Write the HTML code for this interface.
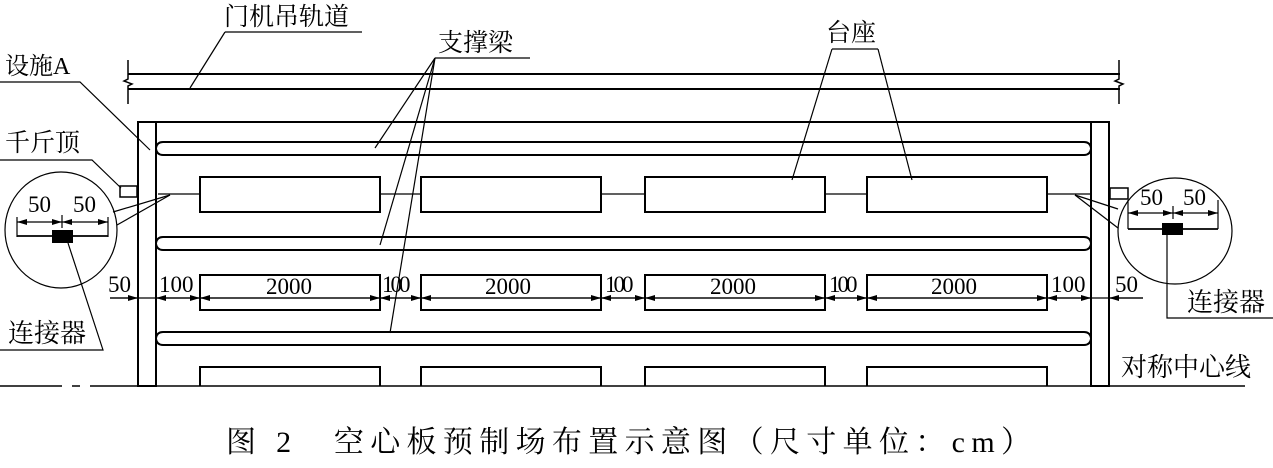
<!DOCTYPE html>
<html><head><meta charset="utf-8"><style>
html,body{margin:0;padding:0;background:#fff;}
svg{display:block}
text{font-family:"Liberation Serif","Noto Serif CJK SC",serif;fill:#000}
</style></head><body>
<svg width="1273" height="468" viewBox="0 0 1273 468" xmlns="http://www.w3.org/2000/svg">
<defs>
<marker id="a" viewBox="0 0 10 6" refX="10" refY="3" markerWidth="10" markerHeight="6" orient="auto-start-reverse" markerUnits="userSpaceOnUse"><path d="M0,0L10,3L0,6z" fill="#000"/></marker>
</defs>
<g stroke="#000" stroke-width="2" fill="none">
<line x1="128" y1="74" x2="1120" y2="74"/>
<line x1="128" y1="89" x2="1120" y2="89"/>
<polyline points="128,60 128,79 124,81 132,84 128,86 128,104" stroke-width="1.5"/>
<polyline points="1119,60 1119,79 1115,81 1123,84 1119,86 1119,104" stroke-width="1.5"/>
<rect x="138" y="122" width="18" height="264"/>
<rect x="1091" y="122" width="18" height="264"/>
<line x1="156" y1="122" x2="1091" y2="122"/>
<path d="M156,148 Q157,142 163,142 H1084 Q1090,142 1091,148"/>
<path d="M156,149 Q157,155 163,155 H1084 Q1090,155 1091,149"/>
<path d="M156,243 Q157,237 163,237 H1084 Q1090,237 1091,243"/>
<path d="M156,244 Q157,250 163,250 H1084 Q1090,250 1091,244"/>
<path d="M156,338 Q157,332 163,332 H1084 Q1090,332 1091,338"/>
<path d="M156,339 Q157,345 163,345 H1084 Q1090,345 1091,339"/>
<rect x="200" y="177" width="180" height="35"/>
<rect x="421" y="177" width="180" height="35"/>
<rect x="645" y="177" width="180" height="35"/>
<rect x="867" y="177" width="180" height="35"/>
<rect x="200" y="275" width="180" height="35"/>
<rect x="421" y="275" width="180" height="35"/>
<rect x="645" y="275" width="180" height="35"/>
<rect x="867" y="275" width="180" height="35"/>
<path d="M200,386 V367 H380 V386"/>
<path d="M421,386 V367 H601 V386"/>
<path d="M645,386 V367 H825 V386"/>
<path d="M867,386 V367 H1047 V386"/>
<g stroke-width="1.3">
<line x1="158" y1="194" x2="200" y2="194"/><line x1="380" y1="194" x2="421" y2="194"/>
<line x1="601" y1="194" x2="645" y2="194"/><line x1="825" y1="194" x2="867" y2="194"/>
<line x1="1047" y1="194" x2="1090" y2="194"/>
</g>
<rect x="120" y="186" width="17" height="11" stroke-width="1.5"/>
<rect x="1110" y="188" width="18" height="11" stroke-width="1.5"/>
<line x1="0" y1="386" x2="138" y2="386" stroke-dasharray="62,10,8,10" stroke-width="1.5"/>
<line x1="138" y1="386" x2="1245" y2="386" stroke-width="1.5"/>
</g>
<g stroke="#000" stroke-width="1.2" fill="none">
<polyline points="225,32 362,32"/><line x1="225" y1="32" x2="190" y2="88"/>
<polyline points="0,82 80,82 150,150"/>
<polyline points="0,160 92,160 121,188"/>
<polyline points="435,58 530,58"/>
<line x1="435" y1="58" x2="375" y2="148"/>
<line x1="435" y1="58" x2="380" y2="245"/>
<line x1="435" y1="58" x2="390" y2="333"/>
<polyline points="832,49 878,49"/>
<line x1="832" y1="49" x2="792" y2="180"/>
<line x1="878" y1="49" x2="912" y2="180"/>
<ellipse cx="61" cy="230" rx="56" ry="58"/>
<line x1="113" y1="212" x2="170" y2="195"/>
<line x1="117" y1="225" x2="170" y2="195"/>
<line x1="17" y1="222" x2="62" y2="222" marker-start="url(#a)" marker-end="url(#a)"/>
<line x1="62" y1="222" x2="108" y2="222" marker-start="url(#a)" marker-end="url(#a)"/>
<line x1="17" y1="217" x2="17" y2="237"/><line x1="108" y1="217" x2="108" y2="237"/>
<line x1="62" y1="215" x2="62" y2="228"/>
<line x1="17" y1="236" x2="108" y2="236" stroke-width="1.8"/>
<polyline points="68,243 103,350 0,350"/>
<ellipse cx="1175" cy="231" rx="57" ry="53"/>
<line x1="1075" y1="195" x2="1118" y2="209"/>
<line x1="1075" y1="195" x2="1118" y2="228"/>
<line x1="1128" y1="213" x2="1173" y2="213" marker-start="url(#a)" marker-end="url(#a)"/>
<line x1="1173" y1="213" x2="1218" y2="213" marker-start="url(#a)" marker-end="url(#a)"/>
<line x1="1128" y1="200" x2="1128" y2="229"/><line x1="1218" y1="200" x2="1218" y2="229"/>
<line x1="1173" y1="206" x2="1173" y2="219"/>
<line x1="1128" y1="229" x2="1218" y2="229" stroke-width="1.8"/>
<polyline points="1167,235 1167,318 1273,318"/>
<line x1="110" y1="298" x2="1143" y2="298"/>
<line x1="110" y1="298" x2="138" y2="298" marker-end="url(#a)"/>
<line x1="156" y1="298" x2="178" y2="298" marker-start="url(#a)"/>
<line x1="178" y1="298" x2="200" y2="298" marker-end="url(#a)"/>
<line x1="200" y1="298" x2="380" y2="298" marker-start="url(#a)" marker-end="url(#a)"/>
<line x1="380" y1="298" x2="401" y2="298" marker-start="url(#a)"/>
<line x1="401" y1="298" x2="421" y2="298" marker-end="url(#a)"/>
<line x1="421" y1="298" x2="601" y2="298" marker-start="url(#a)" marker-end="url(#a)"/>
<line x1="601" y1="298" x2="623" y2="298" marker-start="url(#a)"/>
<line x1="623" y1="298" x2="645" y2="298" marker-end="url(#a)"/>
<line x1="645" y1="298" x2="825" y2="298" marker-start="url(#a)" marker-end="url(#a)"/>
<line x1="825" y1="298" x2="846" y2="298" marker-start="url(#a)"/>
<line x1="846" y1="298" x2="867" y2="298" marker-end="url(#a)"/>
<line x1="867" y1="298" x2="1047" y2="298" marker-start="url(#a)" marker-end="url(#a)"/>
<line x1="1047" y1="298" x2="1068" y2="298" marker-start="url(#a)"/>
<line x1="1068" y1="298" x2="1091" y2="298" marker-end="url(#a)"/>
<line x1="1109" y1="298" x2="1143" y2="298" marker-start="url(#a)"/>
</g>
<rect x="52" y="230" width="21" height="13" fill="#000"/>
<rect x="1162" y="223" width="21" height="12" fill="#000"/>
<g font-size="25">
<text x="224" y="25">门机吊轨道</text>
<text x="438" y="51">支撑梁</text>
<text x="826" y="41">台座</text>
<text x="5" y="74" font-size="24">设施A</text>
<text x="5" y="151">千斤顶</text>
<text x="8" y="342" font-size="26">连接器</text>
<text x="1187" y="311" font-size="26">连接器</text>
<text x="1121" y="376" font-size="26">对称中心线</text>
</g>
<g font-size="23">
<text x="28" y="212">50</text><text x="73" y="212">50</text>
<text x="1140" y="205">50</text><text x="1183" y="205">50</text>
<text x="108" y="292">50</text>
<text x="159" y="292">100</text>
<text x="266" y="294">2000</text>
<text x="382" y="292" letter-spacing="-3">100</text>
<text x="485" y="294">2000</text>
<text x="605" y="292" letter-spacing="-3">100</text>
<text x="710" y="294">2000</text>
<text x="829" y="292" letter-spacing="-3">100</text>
<text x="931" y="294">2000</text>
<text x="1051" y="292">100</text>
<text x="1115" y="292">50</text>
</g>
<text x="226" y="452" font-size="30" textLength="805" lengthAdjust="spacing">图 2　空心板预制场布置示意图（尺寸单位：cm）</text>
</svg>
</body></html>
